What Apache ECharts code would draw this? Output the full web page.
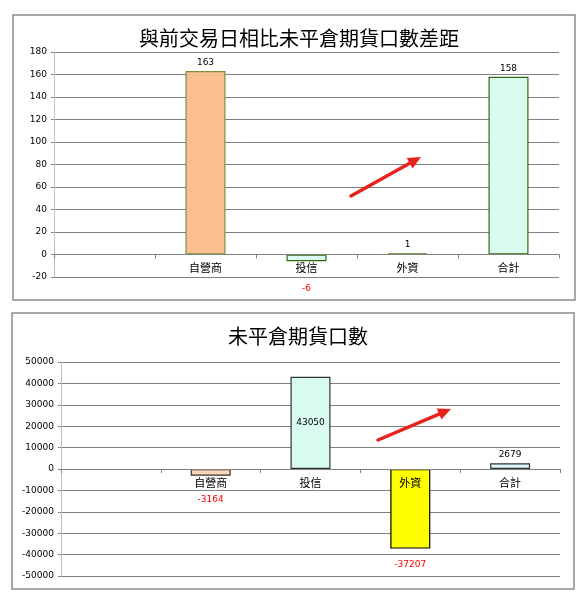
<!DOCTYPE html>
<html>
<head>
<meta charset="utf-8">
<script src="https://cdn.jsdelivr.net/npm/echarts@6/dist/echarts.min.js"></script>
<style>
html,body{margin:0;padding:0;background:#fff;}
#c{width:583px;height:600px;}
</style>
</head>
<body>
<div id="c"></div>
<script>
// ---- data ----
const title1 = '與前交易日相比未平倉期貨口數差距';
const title2 = '未平倉期貨口數';
const categories = ['', '自營商', '投信', '外資', '合計'];
const diffValues = [null, 163, -6, 1, 158];
const oiValues = [null, -3164, 43050, -37207, 2679];
const axis1 = {min: -20, max: 180, interval: 20};
const axis2 = {min: -50000, max: 50000, interval: 10000};

// ---- styles ----
const fill1 = ['#ffffff', '#FAC090', '#D9FCEF', '#D9FCEF', '#D9FCEF'];
const border1 = ['#000', '#77933C', '#2E6B10', '#4F7F1F', '#2E6B10'];
const fill2 = ['#ffffff', '#FCD5B5', '#D9FCEF', '#FFFF00', '#DDF4F8'];
const border2 = ['#000', '#333333', '#333333', '#000000', '#333333'];
const negDist1 = [0, 12, 23, 12, 12];
const negDist2 = [0, 19, 12, 12, 12];
const posPos2 = ['top', 'top', 'inside', 'top', 'top'];

const numFont = {fontFamily: 'DejaVu Sans', fontSize: 9, color: '#000'};
const catFont = {fontFamily: 'Noto Sans CJK TC', fontSize: 11, color: '#000'};

function buildData(values, fills, borders, negDist, posPos) {
  return values.map((v, i) => {
    if (v === null) return {value: null};
    const neg = v < 0;
    return {
      value: v,
      itemStyle: {color: fills[i], borderColor: borders[i], borderWidth: v === 1 ? 1.5 : 1.2},
      label: {
        show: true,
        position: neg ? 'bottom' : (posPos ? posPos[i] : 'top'),
        distance: neg ? negDist[i] : 4,
        color: neg ? '#FF0000' : '#000',
        fontFamily: 'DejaVu Sans',
        fontSize: 9
      }
    };
  });
}

function yAxis(idx, a) {
  return {
    type: 'value', gridIndex: idx, min: a.min, max: a.max, interval: a.interval,
    axisLine: {show: true, lineStyle: {color: '#BFBFBF', width: 1}},
    axisTick: {show: true, length: 3, lineStyle: {color: '#808080'}},
    axisLabel: Object.assign({margin: 7, formatter: v => String(v)}, numFont),
    splitLine: {show: true, lineStyle: {color: '#808080', width: 1}}
  };
}
// offset moves the category axis (line, ticks, labels) up to the zero level
function xAxis(idx, a, gridHeight) {
  const zeroFromBottom = gridHeight * (0 - a.min) / (a.max - a.min);
  return {
    type: 'category', gridIndex: idx, data: categories, position: 'bottom',
    offset: -zeroFromBottom, z: 10,
    axisLine: {show: true, onZero: false, lineStyle: {color: '#808080', width: 1}},
    axisTick: {show: true, length: 4, alignWithLabel: false, lineStyle: {color: '#808080'}},
    axisLabel: Object.assign({margin: 8}, catFont),
    splitLine: {show: false}
  };
}

function arrow(x1, y1, x2, y2) {
  const ang = Math.atan2(y2 - y1, x2 - x1);
  const L = 13, W = 6;
  const bx = x2 - L * Math.cos(ang), by = y2 - L * Math.sin(ang);
  const px = -Math.sin(ang), py = Math.cos(ang);
  return [
    {type: 'line', shape: {x1: x1, y1: y1, x2: bx, y2: by}, style: {stroke: '#E8231E', lineWidth: 3.5, lineCap: 'round'}, z: 100},
    {type: 'polygon', shape: {points: [[x2, y2], [bx + px * W, by + py * W], [bx - px * W, by - py * W]]}, style: {fill: '#E8231E'}, z: 100}
  ];
}

const g1h = 225, g2h = 214;
const chart = echarts.init(document.getElementById('c'), null, {renderer: 'canvas'});
chart.setOption({
  backgroundColor: '#fff',
  animation: false,
  title: [
    {text: title1, left: 294, top: 23, textAlign: 'center',
     textStyle: {fontFamily: 'Noto Sans CJK TC', fontSize: 20, fontWeight: 'normal', color: '#000'}},
    {text: title2, left: 293, top: 321, textAlign: 'center',
     textStyle: {fontFamily: 'Noto Sans CJK TC', fontSize: 20, fontWeight: 'normal', color: '#000'}}
  ],
  grid: [
    {left: 54, right: 24, top: 52, height: g1h, containLabel: false},
    {left: 61, right: 23, top: 362, height: g2h, containLabel: false}
  ],
  xAxis: [xAxis(0, axis1, g1h), xAxis(1, axis2, g2h)],
  yAxis: [yAxis(0, axis1), yAxis(1, axis2)],
  series: [
    {type: 'bar', xAxisIndex: 0, yAxisIndex: 0, barWidth: 40, z: 2,
     data: buildData(diffValues, fill1, border1, negDist1, null)},
    {type: 'bar', xAxisIndex: 1, yAxisIndex: 1, barWidth: 40, z: 2,
     data: buildData(oiValues, fill2, border2, negDist2, posPos2)}
  ],
  graphic: [
    {type: 'rect', shape: {x: 13, y: 15, width: 562, height: 285}, style: {fill: 'none', stroke: '#8C8C8C', lineWidth: 1.5}, z: 90},
    {type: 'rect', shape: {x: 12, y: 313, width: 562, height: 276}, style: {fill: 'none', stroke: '#8C8C8C', lineWidth: 1.5}, z: 90}
  ].concat(arrow(351, 196, 421, 157)).concat(arrow(378, 440, 451, 409))
});
</script>
</body>
</html>
